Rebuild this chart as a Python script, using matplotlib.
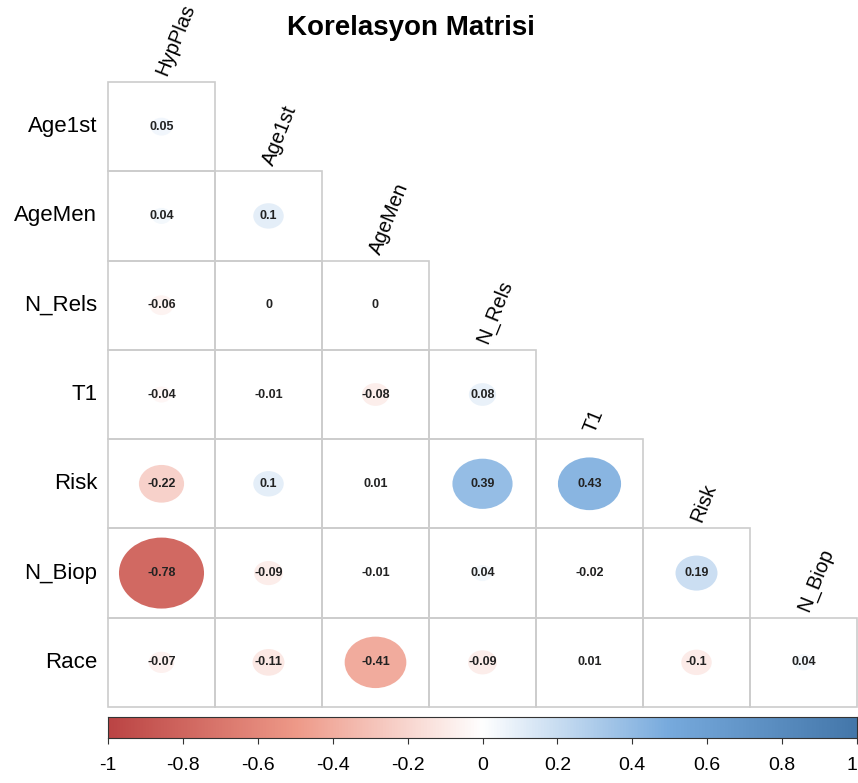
import matplotlib

matplotlib.use("Agg")
import matplotlib.pyplot as plt
import matplotlib.transforms as mtransforms
import numpy as np
from matplotlib.colors import LinearSegmentedColormap, Normalize
from matplotlib.patches import Ellipse, Rectangle

plt.rcParams["font.family"] = ["Liberation Sans", "DejaVu Sans"]

col_labels = ["HypPlas", "Age1st", "AgeMen", "N_Rels", "T1", "Risk", "N_Biop"]
row_labels = ["Age1st", "AgeMen", "N_Rels", "T1", "Risk", "N_Biop", "Race"]

# lower triangle, row i has i+1 entries
corr = [
    [0.05],
    [0.04, 0.1],
    [-0.06, 0, 0],
    [-0.04, -0.01, -0.08, 0.08],
    [-0.22, 0.1, 0.01, 0.39, 0.43],
    [-0.78, -0.09, -0.01, 0.04, -0.02, 0.19],
    [-0.07, -0.11, -0.41, -0.09, 0.01, -0.1, 0.04],
]
cbar_ticks = [-1, -0.8, -0.6, -0.4, -0.2, 0, 0.2, 0.4, 0.6, 0.8, 1]

cmap = LinearSegmentedColormap.from_list(
    "corr", ["#BB4444", "#EE9988", "#FFFFFF", "#77AADD", "#4477AA"])
norm = Normalize(-1, 1)

W, H = 858, 783
fig = plt.figure(figsize=(W / 100, H / 100), dpi=100)


def px_axes(x0, y0, x1, y1):
    return fig.add_axes([x0 / W, 1 - y1 / H, (x1 - x0) / W, (y1 - y0) / H])


n = len(row_labels)
ax = px_axes(108, 82, 857, 707)
ax.set_xlim(0, n)
ax.set_ylim(n, 0)
ax.axis("off")

for i, row in enumerate(corr):
    for j, r in enumerate(row):
        ax.add_patch(Rectangle((j, i), 1, 1, fill=False, edgecolor="#CCCCCC", lw=1.2, clip_on=False))
        d = 0.9 * np.sqrt(abs(r))
        if d > 0:
            ax.add_patch(Ellipse((j + 0.5, i + 0.5), d, d, facecolor=cmap(norm(r)), edgecolor="none"))
        ax.text(j + 0.5, i + 0.5, f"{r:g}", ha="center", va="center",
                fontsize=9, fontweight="bold", color="#222222")

for i, lab in enumerate(row_labels):
    ax.text(-0.1, i + 0.5, lab, ha="right", va="center", fontsize=16, clip_on=False)

for j, lab in enumerate(col_labels):
    ax.text(j + 0.5, j - 0.08, lab, ha="left", va="center", rotation=68,
            rotation_mode="anchor", fontsize=14.5, clip_on=False)

fig.text(411 / W, 1 - 28 / H, "Korelasyon Matrisi", ha="center", va="center",
         fontsize=20, fontweight="bold")

# colour legend
cax = px_axes(108, 717, 857, 738)
grad = np.linspace(-1, 1, 512).reshape(1, -1)
cax.imshow(grad, aspect="auto", cmap=cmap, norm=norm, extent=(-1, 1, 0, 1))
cax.set_xlim(-1, 1)
cax.set_yticks([])
cax.set_xticks(cbar_ticks, [f"{t:g}" for t in cbar_ticks], fontsize=14)
cax.tick_params(axis="x", length=4, pad=10, color="#333333")
for s in cax.spines.values():
    s.set_color("#333333")
# keep the last label inside the canvas
last = cax.get_xticklabels()[-1]
last.set_transform(last.get_transform() + mtransforms.ScaledTranslation(-5 / 100, 0, fig.dpi_scale_trans))

fig.savefig("out.png", dpi=100)
